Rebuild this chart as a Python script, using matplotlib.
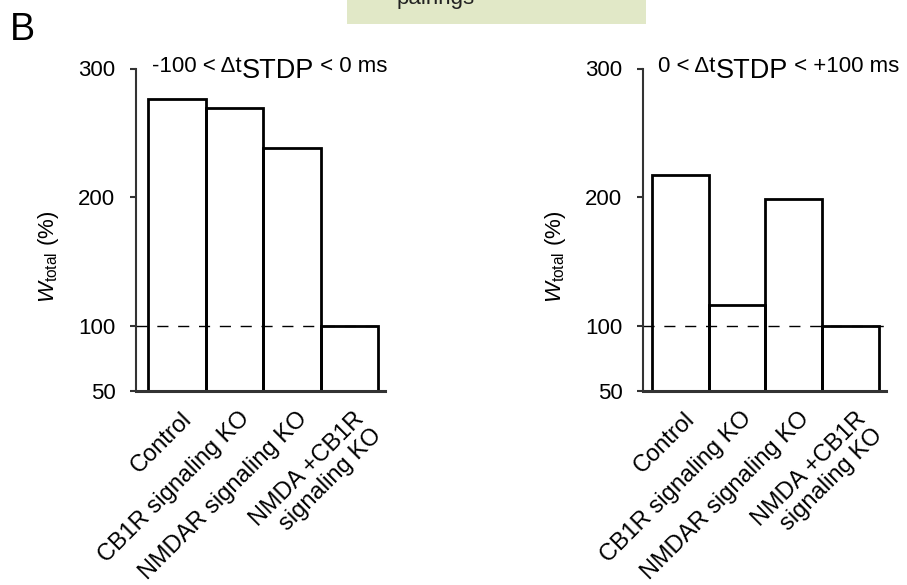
import matplotlib
matplotlib.use("Agg")
import matplotlib.pyplot as plt
import matplotlib.transforms as mtransforms
from matplotlib.patches import Rectangle
import numpy as np

plt.rcParams['font.family'] = ['Liberation Sans', 'DejaVu Sans']
plt.rcParams['mathtext.fontset'] = 'custom'
plt.rcParams['mathtext.rm'] = 'Liberation Sans'
plt.rcParams['mathtext.it'] = 'Liberation Sans:italic'

categories = ["Control", "CB1R signaling KO", "NMDAR signaling KO", "NMDA +CB1R\nsignaling KO"]
neg_values = [276, 269, 238, 100]
pos_values = [217, 116.5, 198.5, 100]
yticks = [50, 100, 200, 300]
titles = [("-100 < \u0394t", "STDP", " < 0 ms"), ("0 < \u0394t", "STDP", " < +100 ms")]

W, H = 907, 585
fig = plt.figure(figsize=(W / 100, H / 100), dpi=100)

def px_axes(x0, x1, ytop, ybot):
    return fig.add_axes([x0 / W, (H - ybot) / H, (x1 - x0) / W, (ybot - ytop) / H])

ax1 = px_axes(136, 385, 68.5, 390.7)
ax2 = px_axes(643, 886, 68.5, 390.7)

configs = [(ax1, neg_values, (-0.709, 3.62), titles[0], 152, 249),
           (ax2, pos_values, (-0.653, 3.62), titles[1], 658, 243)]

x = np.arange(len(categories))
renderer = fig.canvas.get_renderer()

for ax, vals, xl, title, tx, wpx in configs:
    ax.axhline(100, color='black', lw=1.0, linestyle=(0, (8, 7)), zorder=1)
    ax.bar(x, vals, width=1.0, bottom=0, facecolor='none', edgecolor='black', lw=2.0, zorder=2)
    ax.set_xlim(*xl)
    ax.set_ylim(50, 300)
    for s in ['top', 'right']:
        ax.spines[s].set_visible(False)
    ax.spines['left'].set_color('#333333')
    ax.spines['left'].set_linewidth(1.5)
    ax.spines['bottom'].set_color('#333333')
    ax.spines['bottom'].set_linewidth(2.2)
    ax.set_yticks(yticks)
    ax.set_yticklabels([str(t) for t in yticks], fontsize=16)
    ax.tick_params(axis='y', length=4.3, width=1.5, color='#333333', pad=10.5)
    ax.set_xticks(x)
    ax.set_xticklabels(categories, fontsize=17, rotation=45, ha='right', va='top',
                       rotation_mode='anchor', multialignment='right', linespacing=1.1)
    ax.tick_params(axis='x', length=0, pad=0)
    off = mtransforms.ScaledTranslation(4 / 100, -17 / 100, fig.dpi_scale_trans)
    for lab in ax.get_xticklabels():
        lab.set_transform(lab.get_transform() + off)
    ax.set_ylabel(r'$W_{\mathrm{total}}$ (%)', fontsize=16)
    ax.yaxis.set_label_coords(-75 / wpx, 0.415)

    # title with enlarged, lowered subscript
    t1 = fig.text(tx / W, (H - 72) / H, title[0], fontsize=16, ha='left', va='baseline')
    bb = t1.get_window_extent(renderer)
    t2 = fig.text(bb.x1 / W, (H - 78) / H, title[1], fontsize=19.5, ha='left', va='baseline')
    bb2 = t2.get_window_extent(renderer)
    fig.text(bb2.x1 / W, (H - 72) / H, title[2], fontsize=16, ha='left', va='baseline')

# panel letter
fig.text(10 / W, (H - 40) / H, "B", fontsize=27, ha='left', va='baseline')

# partial green box at top (clipped by the figure edge, as in the reference)
fig.patches.append(Rectangle((347 / W, (H - 24) / H), (646 - 347) / W, 24 / H,
                             transform=fig.transFigure, facecolor='#e1e8c7',
                             edgecolor='none', zorder=0))
fig.text(397 / W, (H - 4) / H, "pairings", fontsize=16, ha='left', va='baseline', color='#222222')

fig.savefig("out.png", dpi=100)
